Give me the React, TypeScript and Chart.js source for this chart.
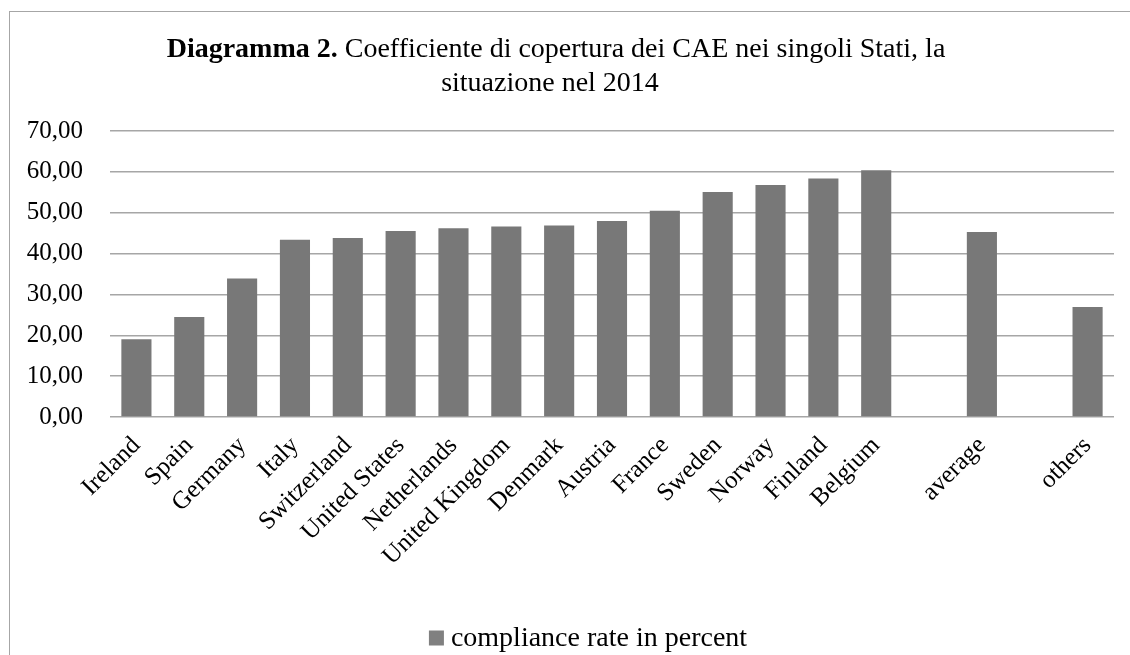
import React, { useEffect, useRef } from "react";
import { Chart, registerables } from "chart.js";

Chart.register(...registerables);

const categories = [
  "Ireland", "Spain", "Germany", "Italy", "Switzerland", "United States",
  "Netherlands", "United Kingdom", "Denmark", "Austria", "France", "Sweden",
  "Norway", "Finland", "Belgium", "", "average", "", "others",
];
const complianceRate: (number | null)[] = [
  19.0, 24.5, 33.9, 43.4, 43.8, 45.5, 46.2, 46.6, 46.9, 48.0, 50.5, 55.1,
  56.8, 58.4, 60.4, null, 45.3, null, 26.9,
];
const seriesName = "compliance rate in percent";
const yTicks = [0, 10, 20, 30, 40, 50, 60, 70];
const titleBold = "Diagramma 2.";
const titleRest = " Coefficiente di copertura dei CAE nei singoli Stati, la";
const titleLine2 = "situazione nel 2014";

const FONT = '"Liberation Serif", "Times New Roman", serif';
const BAR_COLOR = "#787878";

const titlePlugin = {
  id: "mixedTitle",
  afterDraw(chart: any) {
    const ctx = chart.ctx as CanvasRenderingContext2D;
    ctx.save();
    ctx.fillStyle = "#000";
    ctx.textBaseline = "alphabetic";
    ctx.font = `bold 28px ${FONT}`;
    const w1 = ctx.measureText(titleBold).width;
    ctx.font = `28px ${FONT}`;
    const w2 = ctx.measureText(titleRest).width;
    const cx = 546;
    const x = cx - (w1 + w2) / 2;
    ctx.textAlign = "left";
    ctx.font = `bold 28px ${FONT}`;
    ctx.fillText(titleBold, x, 45);
    ctx.font = `28px ${FONT}`;
    ctx.fillText(titleRest, x + w1, 45);
    ctx.textAlign = "center";
    ctx.fillText(titleLine2, cx - 6, 79);
    ctx.restore();
  },
};

const legendPlugin = {
  id: "bottomLegend",
  afterDraw(chart: any) {
    const ctx = chart.ctx as CanvasRenderingContext2D;
    const ds = chart.data.datasets[0];
    ctx.save();
    ctx.font = `28px ${FONT}`;
    const tw = ctx.measureText(ds.label).width;
    const box = 15;
    const gap = 7;
    const total = box + gap + tw;
    const cx = 578;
    const x0 = cx - total / 2;
    const cy = 626;
    ctx.fillStyle = "#808080";
    ctx.fillRect(x0, cy - box / 2, box, box);
    ctx.fillStyle = "#000";
    ctx.textAlign = "left";
    ctx.textBaseline = "middle";
    ctx.fillText(ds.label, x0 + box + gap, cy + 1);
    ctx.restore();
  },
};

export default function App() {
  const ref = useRef<HTMLCanvasElement | null>(null);
  useEffect(() => {
    if (!ref.current) return;
    const chart = new Chart(ref.current, {
      type: "bar",
      data: {
        labels: categories,
        datasets: [
          {
            label: seriesName,
            data: complianceRate as any,
            backgroundColor: BAR_COLOR,
            borderWidth: 0,
            barPercentage: 0.57,
            categoryPercentage: 1,
          },
        ],
      },
      options: {
        responsive: false,
        animation: false,
        devicePixelRatio: 1,
        layout: { padding: { top: 119, left: 0, right: 52, bottom: 0 } },
        plugins: {
          title: { display: false },
          tooltip: { enabled: false },
          legend: { display: false },
        },
        scales: {
          x: {
            grid: { display: false },
            border: { display: false },
            ticks: {
              autoSkip: false,
              maxRotation: 45,
              minRotation: 45,
              color: "#000",
              font: { family: FONT, size: 25 },
              padding: 6,
            },
            afterFit: (s: any) => {
              s.height = 245;
            },
          },
          y: {
            min: 0,
            max: 70,
            afterBuildTicks: (s: any) => {
              s.ticks = yTicks.map((v) => ({ value: v }));
            },
            grid: {
              color: "#a6a6a6",
              lineWidth: 1.5,
              drawTicks: false,
            },
            border: { display: false },
            ticks: {
              color: "#000",
              font: { family: FONT, size: 25 },
              padding: 27,
              callback: (v: any) => Number(v).toFixed(2).replace(".", ","),
            },
            afterFit: (s: any) => {
              s.width = 100;
            },
          },
        },
      },
      plugins: [titlePlugin, legendPlugin],
    });
    return () => chart.destroy();
  }, []);

  return (
    <div
      style={{
        position: "fixed",
        left: 0,
        top: 0,
        width: 1130,
        height: 655,
        overflow: "hidden",
        background: "#fff",
      }}
    >
      <div
        style={{
          position: "absolute",
          left: 9,
          top: 11,
          width: 1200,
          height: 700,
          borderLeft: "1px solid #a6a6a6",
          borderTop: "1px solid #a6a6a6",
        }}
      >
        <canvas ref={ref} width={1156} height={650} style={{ display: "block", width: 1156, height: 650 }} />
      </div>
    </div>
  );
}
